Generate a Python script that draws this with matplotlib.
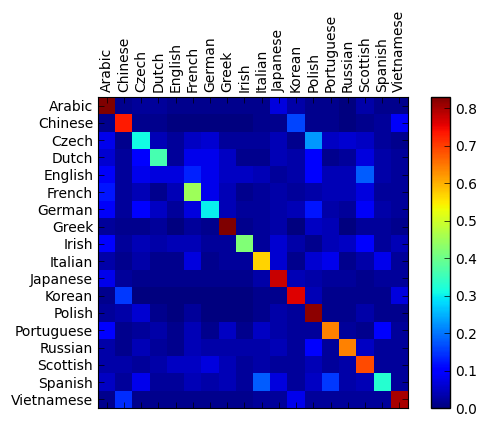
import matplotlib
matplotlib.use("Agg")
import matplotlib.pyplot as plt
import matplotlib.ticker as ticker
import numpy as np

categories = ["Arabic", "Chinese", "Czech", "Dutch", "English", "French",
              "German", "Greek", "Irish", "Italian", "Japanese", "Korean",
              "Polish", "Portuguese", "Russian", "Scottish", "Spanish",
              "Vietnamese"]

# one row per true category, columns = predicted category
arabic = [0.83, 0.01, 0.02, 0.02, 0.01, 0.01, 0.01, 0.01, 0.01,
          0.01, 0.07, 0.03, 0.01, 0.01, 0.00, 0.03, 0.01, 0.01]
chinese = [0.01, 0.73, 0.01, 0.01, 0.00, 0.00, 0.00, 0.00, 0.00,
           0.01, 0.01, 0.16, 0.01, 0.01, 0.00, 0.01, 0.02, 0.09]
czech = [0.08, 0.01, 0.31, 0.04, 0.02, 0.05, 0.06, 0.02, 0.02,
         0.02, 0.04, 0.01, 0.23, 0.05, 0.06, 0.05, 0.02, 0.01]
dutch = [0.06, 0.02, 0.10, 0.36, 0.02, 0.08, 0.08, 0.05, 0.01,
         0.01, 0.04, 0.03, 0.10, 0.01, 0.02, 0.07, 0.03, 0.02]
english = [0.09, 0.02, 0.08, 0.07, 0.07, 0.13, 0.08, 0.05, 0.05,
           0.04, 0.02, 0.03, 0.10, 0.04, 0.04, 0.18, 0.03, 0.02]
french = [0.12, 0.02, 0.04, 0.01, 0.04, 0.45, 0.08, 0.04, 0.01,
          0.02, 0.03, 0.02, 0.03, 0.04, 0.04, 0.07, 0.02, 0.02]
german = [0.09, 0.02, 0.10, 0.05, 0.02, 0.07, 0.30, 0.04, 0.02,
          0.02, 0.03, 0.04, 0.12, 0.03, 0.02, 0.09, 0.03, 0.02]
greek = [0.02, 0.01, 0.01, 0.02, 0.00, 0.02, 0.01, 0.83, 0.01,
         0.02, 0.03, 0.00, 0.05, 0.04, 0.00, 0.02, 0.02, 0.01]
irish = [0.10, 0.02, 0.04, 0.03, 0.04, 0.04, 0.02, 0.02, 0.42,
         0.02, 0.06, 0.03, 0.01, 0.04, 0.05, 0.10, 0.02, 0.04]
italian = [0.03, 0.01, 0.03, 0.01, 0.01, 0.07, 0.01, 0.02, 0.02,
           0.57, 0.06, 0.01, 0.06, 0.08, 0.01, 0.03, 0.08, 0.02]
japanese = [0.08, 0.02, 0.01, 0.01, 0.01, 0.01, 0.01, 0.01, 0.01,
            0.03, 0.775, 0.04, 0.03, 0.02, 0.02, 0.01, 0.02, 0.02]
korean = [0.01, 0.15, 0.00, 0.00, 0.00, 0.00, 0.00, 0.00, 0.00,
          0.01, 0.01, 0.76, 0.04, 0.01, 0.01, 0.01, 0.01, 0.07]
polish = [0.02, 0.03, 0.06, 0.01, 0.00, 0.02, 0.00, 0.00, 0.00,
          0.01, 0.03, 0.02, 0.82, 0.01, 0.01, 0.03, 0.01, 0.01]
portuguese = [0.10, 0.01, 0.02, 0.03, 0.01, 0.04, 0.01, 0.05, 0.01,
              0.05, 0.03, 0.02, 0.02, 0.64, 0.02, 0.01, 0.10, 0.02]
russian = [0.03, 0.01, 0.04, 0.02, 0.01, 0.04, 0.03, 0.03, 0.03,
           0.03, 0.04, 0.02, 0.10, 0.02, 0.64, 0.05, 0.02, 0.02]
scottish = [0.03, 0.03, 0.02, 0.03, 0.05, 0.05, 0.07, 0.04, 0.02,
            0.03, 0.02, 0.02, 0.04, 0.02, 0.03, 0.69, 0.02, 0.02]
spanish = [0.05, 0.02, 0.08, 0.02, 0.02, 0.04, 0.03, 0.04, 0.02,
           0.18, 0.07, 0.02, 0.05, 0.15, 0.03, 0.04, 0.33, 0.02]
vietnamese = [0.01, 0.14, 0.01, 0.01, 0.01, 0.01, 0.01, 0.01, 0.01,
              0.02, 0.02, 0.08, 0.02, 0.02, 0.02, 0.02, 0.02, 0.80]

confusion = np.array([arabic, chinese, czech, dutch, english, french,
                      german, greek, irish, italian, japanese, korean,
                      polish, portuguese, russian, scottish, spanish,
                      vietnamese])

plt.rcParams.update({
    "font.family": "DejaVu Sans",
    "font.size": 10,
    "xtick.direction": "in",
    "ytick.direction": "in",
    "xtick.major.size": 4,
    "ytick.major.size": 4,
    "xtick.major.width": 0.5,
    "ytick.major.width": 0.5,
    "xtick.top": True,
    "xtick.bottom": True,
    "ytick.left": True,
    "ytick.right": True,
})

fig = plt.figure(figsize=(4.84, 4.24), dpi=100)
ax = fig.add_axes([98 / 484, 16 / 424, 310 / 484, 311 / 424])
cax = fig.add_axes([431 / 484, 16 / 424, 19 / 484, 311 / 424])

im = ax.matshow(confusion, cmap="jet", vmin=0.0, vmax=0.83, aspect="auto")
ax.xaxis.set_major_locator(ticker.MultipleLocator(1))
ax.yaxis.set_major_locator(ticker.MultipleLocator(1))
ax.set_xticks(range(len(categories)))
ax.set_yticks(range(len(categories)))
ax.set_xticklabels(categories, rotation=90)
ax.set_yticklabels(categories)
ax.tick_params(axis="x", labeltop=True, labelbottom=False)

cb = fig.colorbar(im, cax=cax)
cb.set_ticks(np.arange(0.0, 0.81, 0.1))
cb.ax.tick_params(direction="in", length=4, width=0.5, left=False, right=True)
cb.outline.set_linewidth(1.0)

fig.savefig("out.png", dpi=100)
